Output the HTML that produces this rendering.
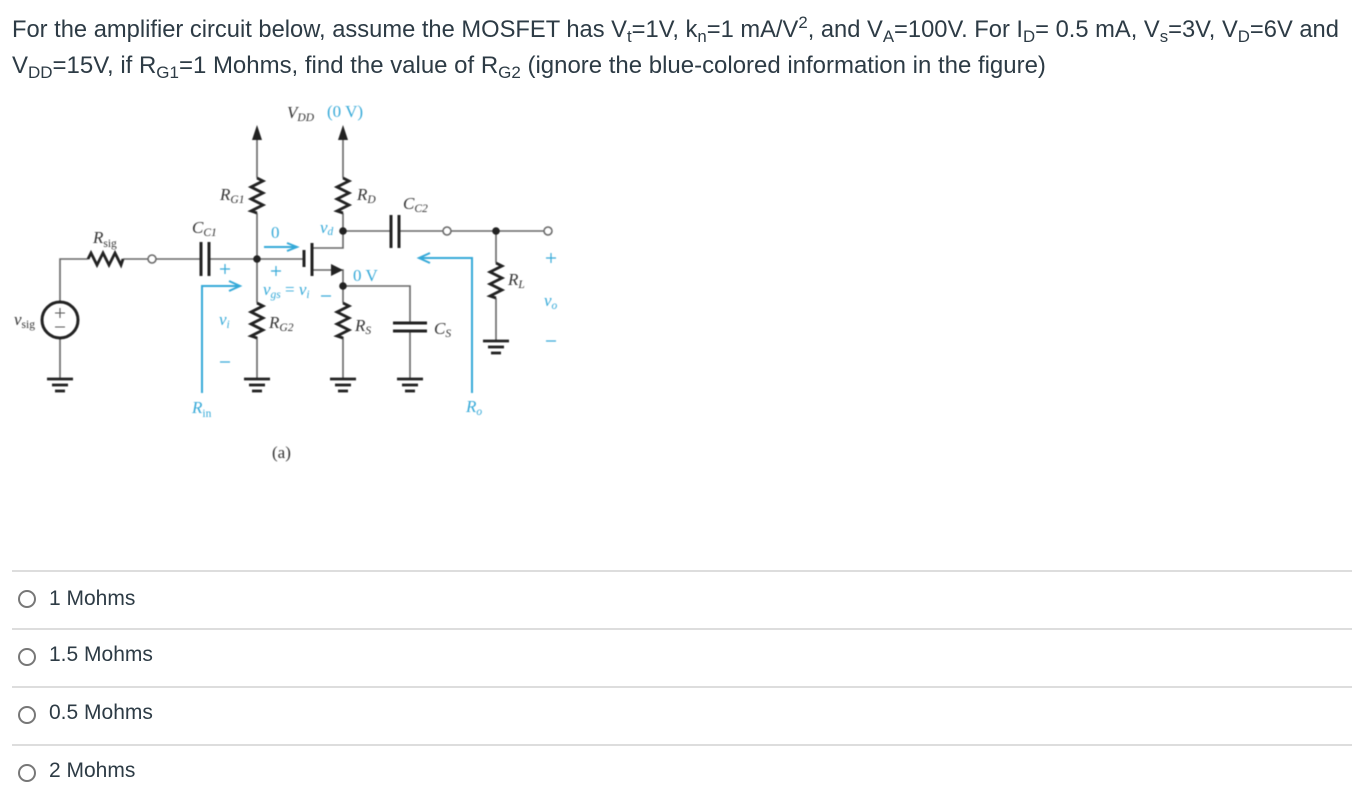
<!DOCTYPE html>
<html><head><meta charset="utf-8"><style>
html,body{margin:0;padding:0;background:#fff}
#p{position:relative;width:1352px;height:794px;overflow:hidden;background:#fff;color:#2d3b45;font-family:"Liberation Sans",sans-serif}
.l{position:absolute;left:12px;white-space:nowrap;font-size:24px;line-height:36px;transform-origin:0 50%}
.l sub{font-size:17px;line-height:0;vertical-align:-5px}
.l sup{font-size:17px;line-height:0;vertical-align:9px}
.h{position:absolute;left:12px;width:1340px;height:2px;background:#ddd}
.o{position:absolute;left:49px;font-size:21px;line-height:28px;white-space:nowrap}
.r{position:absolute;left:18px;width:14px;height:14px;border:2px solid #777;border-radius:50%;background:#fff}
svg{position:absolute;left:0;top:0}
#c{filter:blur(.5px)}
#c text{font-family:"Liberation Serif",serif;font-size:17px;fill:#333}
#c .b{fill:#35a9d8}
#c .i{font-style:italic}
#c tspan.s{font-size:11.5px}
</style></head><body><div id="p">
<div class="l" style="top:12px;transform:scaleX(.988)">For the amplifier circuit below, assume the MOSFET has V<sub>t</sub>=1V, k<sub>n</sub>=1 mA/V<sup>2</sup>, and V<sub>A</sub>=100V. For I<sub>D</sub>= 0.5 mA, V<sub>s</sub>=3V, V<sub>D</sub>=6V and</div>
<div class="l" style="top:48px;transform:scaleX(.999)">V<sub>DD</sub>=15V, if R<sub>G1</sub>=1 Mohms, find the value of R<sub>G2</sub> (ignore the blue-colored information in the figure)</div>

<svg id="c" width="1352" height="794" viewBox="0 0 1352 794">
<defs>
<path id="rv" d="M0 0L6 3L-6 9L6 15L-6 21L6 27L-6 33L0 35" fill="none" stroke="#222" stroke-width="2.8"/>
<path id="rh" d="M0 0L3 -6L9 6L15 -6L21 6L27 -6L33 6L35 0" fill="none" stroke="#222" stroke-width="2.8"/>
<g id="gnd" stroke="#222" fill="none"><path d="M-13 0H13" stroke-width="2.8"/><path d="M-8 6H8" stroke-width="2.8"/><path d="M-5 12H5" stroke-width="2.8"/></g>
</defs>
<g fill="none" stroke="#666" stroke-width="1.6">
<path d="M60 301V259H88M123 259H148M156 259H201M209 259H304"/>
<path d="M60 339V379"/>
<path d="M257 135V178M257 213V303M257 337V379"/>
<path d="M343 135V178M343 213V248H312"/>
<path d="M343 231H391M399 231H443M451 231H544"/>
<path d="M496 231V263M496 298V341"/>
<path d="M312 270H343V303M343 337V379"/>
<path d="M343 286H410V323M410 331V379"/>
</g>
<use href="#rh" x="88" y="259"/>
<use href="#rv" x="257" y="178"/>
<use href="#rv" x="257" y="303"/>
<use href="#rv" x="343" y="178"/>
<use href="#rv" x="343" y="303"/>
<use href="#rv" x="496" y="263"/>
<use href="#gnd" x="60" y="379"/>
<use href="#gnd" x="257" y="379"/>
<use href="#gnd" x="343" y="379"/>
<use href="#gnd" x="410" y="379"/>
<use href="#gnd" x="496" y="341"/>
<g fill="#222">
<path d="M257 125L262 140H252Z"/><path d="M343 125L348 140H338Z"/>
<circle cx="257" cy="259" r="3.8"/><circle cx="343" cy="231" r="3.8"/><circle cx="343" cy="286" r="3.8"/><circle cx="496" cy="231" r="3.8"/>
<path d="M331 264L343 270L331 276Z"/>
</g>
<g fill="#fff" stroke="#666" stroke-width="1.5">
<circle cx="152" cy="259" r="4"/><circle cx="447" cy="231" r="4"/><circle cx="548" cy="231" r="4"/>
</g>
<g stroke="#222" stroke-width="3" fill="none">
<path d="M201 242V276M209 242V276M391 215V248M399 215V248M393 323H427M393 331H427"/>
<path d="M304 250V267M312 243V276"/>
<circle cx="60" cy="320" r="18" fill="#fff"/>
</g>
<g stroke="#555" stroke-width="1.1"><path d="M55 313H65M60 308V318M55 327H65"/></g>
<g fill="none" stroke="#35a9d8" stroke-width="2">
<path d="M202 393V286H240"/><path d="M229 281L240 286L229 291"/>
<path d="M472 393V258H419"/><path d="M430 253L419 258L430 263"/>
<path d="M264 247H297"/><path d="M287 243L297 247L287 251"/>
</g>
<g fill="none" stroke="#35a9d8" stroke-width="1.2">
<path d="M220 269H230M225 264V274M271 271H281M276 266V276M546 258H556M551 253V263M546 341H556M220 362H230M321 296H331"/>
</g>
<text x="287" y="118" class="i">V<tspan class="s" dy="3">DD</tspan></text>
<text x="327" y="117" class="b">(0 V)</text>
<text x="220" y="200" class="i">R<tspan class="s" dy="3">G1</tspan></text>
<text x="192" y="233" class="i">C<tspan class="s" dy="3">C1</tspan></text>
<text x="93" y="243" class="i">R<tspan class="s" dy="4" style="font-style:normal">sig</tspan></text>
<text x="271" y="238" class="b">0</text>
<text x="320" y="233" class="b i">v<tspan class="s" dy="2">d</tspan></text>
<text x="357" y="200" class="i">R<tspan class="s" dy="3">D</tspan></text>
<text x="403" y="209" class="i">C<tspan class="s" dy="3">C2</tspan></text>
<text x="353" y="281" class="b">0 V</text>
<text x="508" y="285" class="i">R<tspan class="s" dy="3">L</tspan></text>
<text x="544" y="306" class="b i">v<tspan class="s" dy="3">o</tspan></text>
<text x="263" y="295" class="b i">v<tspan class="s" dy="3">gs</tspan><tspan dy="-3" style="font-style:normal"> = </tspan>v<tspan class="s" dy="3">i</tspan></text>
<text x="219" y="325" class="b i">v<tspan class="s" dy="3">i</tspan></text>
<text x="269" y="328" class="i">R<tspan class="s" dy="3">G2</tspan></text>
<text x="355" y="331" class="i">R<tspan class="s" dy="3">S</tspan></text>
<text x="434" y="334" class="i">C<tspan class="s" dy="3">S</tspan></text>
<text x="192" y="413" class="b i">R<tspan class="s" dy="4" style="font-style:normal">in</tspan></text>
<text x="466" y="412" class="b i">R<tspan class="s" dy="3">o</tspan></text>
<text x="272" y="458">(a)</text>
<text x="14" y="325" class="i">v<tspan class="s" dy="3" style="font-style:normal">sig</tspan></text>
</svg>

<div class="h" style="top:570px"></div>
<div class="h" style="top:628px"></div>
<div class="h" style="top:686px"></div>
<div class="h" style="top:744px"></div>
<div class="r" style="top:590px"></div><div class="o" style="top:585px">1 Mohms</div>
<div class="r" style="top:648px"></div><div class="o" style="top:641px">1.5 Mohms</div>
<div class="r" style="top:706px"></div><div class="o" style="top:699px">0.5 Mohms</div>
<div class="r" style="top:764px"></div><div class="o" style="top:757px">2 Mohms</div>
</div></body></html>
